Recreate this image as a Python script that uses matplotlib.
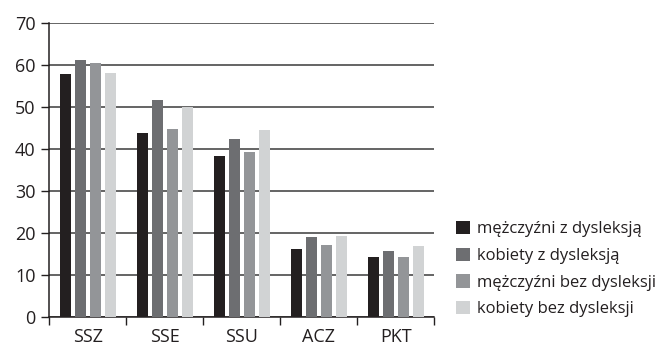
import matplotlib
matplotlib.use("Agg")
import matplotlib.pyplot as plt
import numpy as np
from matplotlib.patches import Patch

plt.rcParams['font.family'] = ['Open Sans', 'DejaVu Sans']

categories = ["SSZ", "SSE", "SSU", "ACZ", "PKT"]
series_names = ["mężczyźni z dysleksją", "kobiety z dysleksją",
                "mężczyźni bez dysleksji", "kobiety bez dysleksji"]
men_dys = [57.8, 43.7, 38.3, 16.0, 14.1]
women_dys = [61.1, 51.6, 42.3, 19.0, 15.6]
men_nodys = [60.4, 44.6, 39.1, 17.1, 14.1]
women_nodys = [58.0, 50.0, 44.5, 19.2, 16.8]
colors = ["#231f20", "#6d6e71", "#939598", "#d1d3d4"]
yticks = [0, 10, 20, 30, 40, 50, 60, 70]

series = [men_dys, women_dys, men_nodys, women_nodys]

fig = plt.figure(figsize=(6.62, 3.49), dpi=100)
ax = fig.add_axes([0.0745, 0.0926, 0.5815, 0.8424])

x = np.arange(len(categories))
step = 0.195
width = 0.147
for k, (vals, c) in enumerate(zip(series, colors)):
    ax.bar(x + (k - 1.5) * step, vals, width, color=c, zorder=3)

ax.set_xlim(-0.5, len(categories) - 0.5)
ax.set_ylim(0, 70)
ax.set_yticks(yticks)
ax.yaxis.grid(True, color="#3a3a3a", linewidth=1.1, zorder=1)
ax.set_axisbelow(True)

ax.set_xticks(x)
ax.set_xticklabels(categories)
ax.set_xticks(np.arange(len(categories) + 1) - 0.5, minor=True)
ax.tick_params(axis="x", which="major", length=0, pad=8, labelsize=13, labelcolor="#231f20")
ax.tick_params(axis="x", which="minor", length=6, width=1, color="#231f20")
ax.tick_params(axis="y", length=6, width=1, color="#231f20", pad=4, labelsize=13, labelcolor="#231f20")

for s in ["top", "right"]:
    ax.spines[s].set_visible(False)
for s in ["left", "bottom"]:
    ax.spines[s].set_color("#231f20")
    ax.spines[s].set_linewidth(1.1)

handles = [Patch(facecolor=c, edgecolor="none") for c in colors]
fig.legend(handles, series_names, loc="upper left", bbox_to_anchor=(0.689, 0.367),
           frameon=False, fontsize=12, handlelength=0.84, handleheight=0.84,
           handletextpad=0.4, labelspacing=0.62, borderpad=0, borderaxespad=0,
           labelcolor="#231f20")

fig.savefig("out.png", dpi=100)
